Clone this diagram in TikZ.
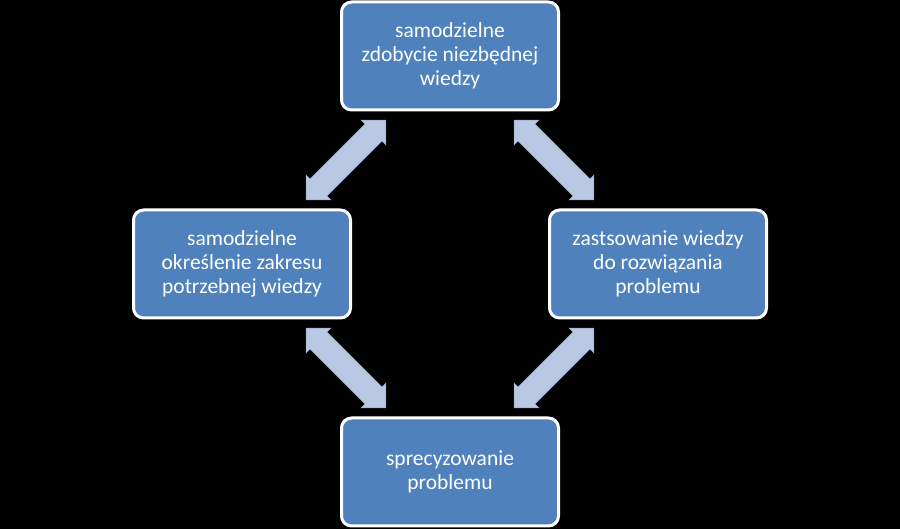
\documentclass[tikz,border=0pt]{standalone}
\usepackage{fontspec}
\setmainfont{Carlito}
\usetikzlibrary{calc}
\definecolor{boxblue}{RGB}{79,129,189}
\definecolor{arrowblue}{RGB}{185,200,226}
\definecolor{arrowedge}{RGB}{150,168,198}
\tikzset{
  cyclebox/.style={draw=white, line width=3pt, fill=boxblue, rounded corners=10pt,
    minimum width=217pt, minimum height=108pt, text=white, align=center,
    font=\fontsize{21.5pt}{24pt}\selectfont, inner sep=2pt},
  barrow/.style={fill=arrowblue, draw=arrowedge, line width=0.5pt}
}
\newcommand{\blockarrow}[2]{%
  \filldraw[barrow, shift={(#1)}, rotate=#2]
    (-56.5,0) -- (-38.8,17.7) -- (-38.8,12) -- (38.8,12) -- (38.8,17.7) -- (56.5,0)
    -- (38.8,-17.7) -- (38.8,-12) -- (-38.8,-12) -- (-38.8,-17.7) -- cycle;}
\begin{document}
\begin{tikzpicture}[x=1pt,y=1pt]
\fill[black] (0,0) rectangle (900,529);
\useasboundingbox (0,0) rectangle (900,529);
\node[cyclebox] (top) at (450,473) {samodzielne\\zdobycie niezbędnej\\wiedzy};
\node[cyclebox] (left) at (242,265) {samodzielne\\określenie zakresu\\potrzebnej wiedzy};
\node[cyclebox] (right) at (658,265) {zastsowanie wiedzy\\do rozwiązania\\problemu};
\node[cyclebox] (bottom) at (450,57) {sprecyzowanie\\problemu};
\coordinate (mtl) at ($(top)!0.5!(left)$);
\coordinate (mtr) at ($(top)!0.5!(right)$);
\coordinate (mbl) at ($(bottom)!0.5!(left)$);
\coordinate (mbr) at ($(bottom)!0.5!(right)$);
\blockarrow{mtl}{45}
\blockarrow{mtr}{-45}
\blockarrow{mbl}{-45}
\blockarrow{mbr}{45}
\end{tikzpicture}
\end{document}
